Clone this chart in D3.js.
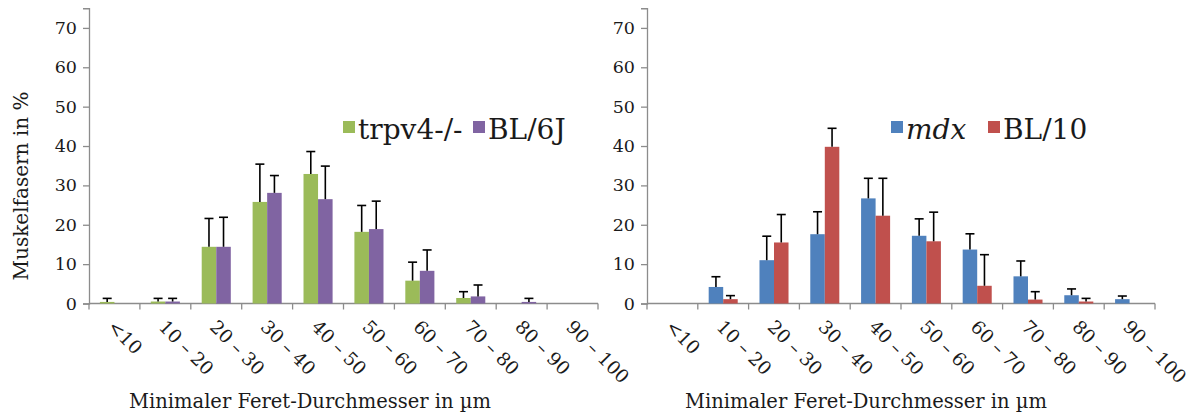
<!DOCTYPE html>
<html>
<head>
<meta charset="utf-8">
<script src="https://cdn.jsdelivr.net/npm/d3@7"></script>
<style>
  html, body { margin: 0; padding: 0; background: #fff; }
  svg text { font-family: "DejaVu Serif", serif; fill: #1a1a1a; }
</style>
</head>
<body>
<svg id="chart" width="1193" height="417"></svg>
<script>
// Size classes of the minimal Feret diameter (µm)
const categories = ["<10", "10 – 20", "20 – 30", "30 – 40", "40 – 50", "50 – 60", "60 – 70", "70 – 80", "80 – 90", "90 – 100"];
const yTicks = [0, 10, 20, 30, 40, 50, 60, 70];

// Left panel: trpv4-/- vs. BL/6J (mean % of fibres and upper SD)
const trpv4Mean = [0.4, 0.5, 14.4, 25.8, 32.9, 18.2, 5.8, 1.4, 0, 0];
const trpv4Err  = [0.9, 0.8, 7.2, 9.6, 5.7, 6.7, 4.7, 1.6, 0, 0];
const bl6Mean   = [0, 0.5, 14.4, 28.1, 26.5, 18.9, 8.3, 1.8, 0.4, 0];
const bl6Err    = [0, 0.8, 7.5, 4.4, 8.4, 7.1, 5.3, 2.9, 0.9, 0];

// Right panel: mdx vs. BL/10
const mdxMean  = [0, 4.2, 11.0, 17.6, 26.7, 17.2, 13.7, 6.9, 2.1, 1.1];
const mdxErr   = [0, 2.6, 6.1, 5.7, 5.1, 4.3, 4.0, 3.9, 1.6, 0.8];
const bl10Mean = [0, 1.1, 15.5, 39.8, 22.3, 15.8, 4.5, 1.0, 0.5, 0];
const bl10Err  = [0, 0.9, 7.1, 4.7, 9.5, 7.4, 7.9, 2.0, 0.8, 0];

const svg = d3.select("#chart");
const yTitle = "Muskelfasern in %";
const xTitle = "Minimaler Feret-Durchmesser in µm";
const serif = "DejaVu Serif";

function panel(opts) {
  const g = svg.append("g");
  const y = d3.scaleLinear().domain([0, 75]).range([opts.y0, opts.y0 - 75 * 3.937]);
  const x0 = d3.scaleBand().domain(categories).range([opts.xl, opts.xr]).paddingInner(0).paddingOuter(0);
  const names = opts.series.map(s => s.name);
  const x1 = d3.scaleBand().domain(names).range([0, x0.bandwidth()]).paddingInner(0).paddingOuter(0.75);
  const axisColor = "#8c8c8c";

  // y axis
  const yAxis = d3.axisLeft(y).tickValues(yTicks).tickSize(6).tickPadding(6).tickFormat(d3.format("d"));
  const ya = g.append("g").attr("transform", `translate(${opts.xl},0)`).call(yAxis)
    .attr("font-family", serif).attr("font-size", 17.5);
  ya.select(".domain").attr("stroke", axisColor).attr("stroke-width", 1.3);
  ya.selectAll(".tick line").attr("stroke", axisColor).attr("stroke-width", 1.3);
  ya.selectAll(".tick text").attr("fill", "#1a1a1a");

  // x axis with category boundary ticks
  const xa = g.append("g").attr("transform", `translate(0,${opts.y0})`);
  xa.append("line").attr("x1", opts.xl).attr("x2", opts.xr).attr("stroke", axisColor).attr("stroke-width", 1.3);
  const bounds = categories.map(c => x0(c)).concat([opts.xr]);
  xa.selectAll("line.tk").data(bounds).join("line").attr("class", "tk")
    .attr("x1", d => d).attr("x2", d => d).attr("y1", 0).attr("y2", 6)
    .attr("stroke", axisColor).attr("stroke-width", 1.3);
  xa.selectAll("text.cat").data(categories).join("text").attr("class", "cat")
    .attr("transform", d => `translate(${x0(d) + x0.bandwidth() / 2 - 3},${20}) rotate(45)`)
    .attr("font-size", 18.5).attr("dy", "0.35em").text(d => d);

  // bars and error bars
  opts.series.forEach(s => {
    const sg = g.append("g");
    const data = categories.map((c, i) => ({ c, v: s.mean[i], e: s.err[i] }));
    sg.selectAll("rect").data(data).join("rect")
      .attr("x", d => x0(d.c) + x1(s.name))
      .attr("width", x1.bandwidth())
      .attr("y", d => y(d.v))
      .attr("height", d => y(0) - y(d.v))
      .attr("fill", s.color);
    const eb = data.filter(d => d.e > 0);
    const cx = d => x0(d.c) + x1(s.name) + x1.bandwidth() / 2;
    sg.selectAll("line.eb").data(eb).join("line").attr("class", "eb")
      .attr("x1", cx).attr("x2", cx).attr("y1", d => y(d.v)).attr("y2", d => y(d.v + d.e))
      .attr("stroke", "#000").attr("stroke-width", 1.6);
    sg.selectAll("line.cap").data(eb).join("line").attr("class", "cap")
      .attr("x1", d => cx(d) - 4.5).attr("x2", d => cx(d) + 4.5)
      .attr("y1", d => y(d.v + d.e)).attr("y2", d => y(d.v + d.e))
      .attr("stroke", "#000").attr("stroke-width", 1.6);
  });

  // legend
  const lg = g.append("g");
  opts.series.forEach((s, i) => {
    const lx = opts.legend[i];
    lg.append("rect").attr("x", lx).attr("y", opts.legendY - 18).attr("width", 12).attr("height", 12).attr("fill", s.color);
    lg.append("text").attr("x", lx + 15).attr("y", opts.legendY)
      .attr("font-size", 28).attr("font-style", s.italic ? "italic" : null).text(s.name);
  });

  // axis titles
  g.append("text").attr("x", opts.xTitleX).attr("y", 408).attr("text-anchor", "middle")
    .attr("font-size", 19.5).text(xTitle);
  if (opts.showY) {
    g.append("text").attr("transform", `translate(28,186) rotate(-90)`).attr("text-anchor", "middle")
      .attr("font-size", 20).text(yTitle);
  }
}

panel({
  xl: 89, xr: 598, y0: 303.5, showY: true, xTitleX: 310,
  legendY: 139, legend: [343, 473],
  series: [
    { name: "trpv4-/-", mean: trpv4Mean, err: trpv4Err, color: "#9bbb59" },
    { name: "BL/6J", mean: bl6Mean, err: bl6Err, color: "#8064a2" }
  ]
});
panel({
  xl: 647, xr: 1155, y0: 303.5, showY: false, xTitleX: 866,
  legendY: 139, legend: [891, 988],
  series: [
    { name: "mdx", mean: mdxMean, err: mdxErr, color: "#4f81bd", italic: true },
    { name: "BL/10", mean: bl10Mean, err: bl10Err, color: "#c0504d" }
  ]
});
</script>
</body>
</html>
